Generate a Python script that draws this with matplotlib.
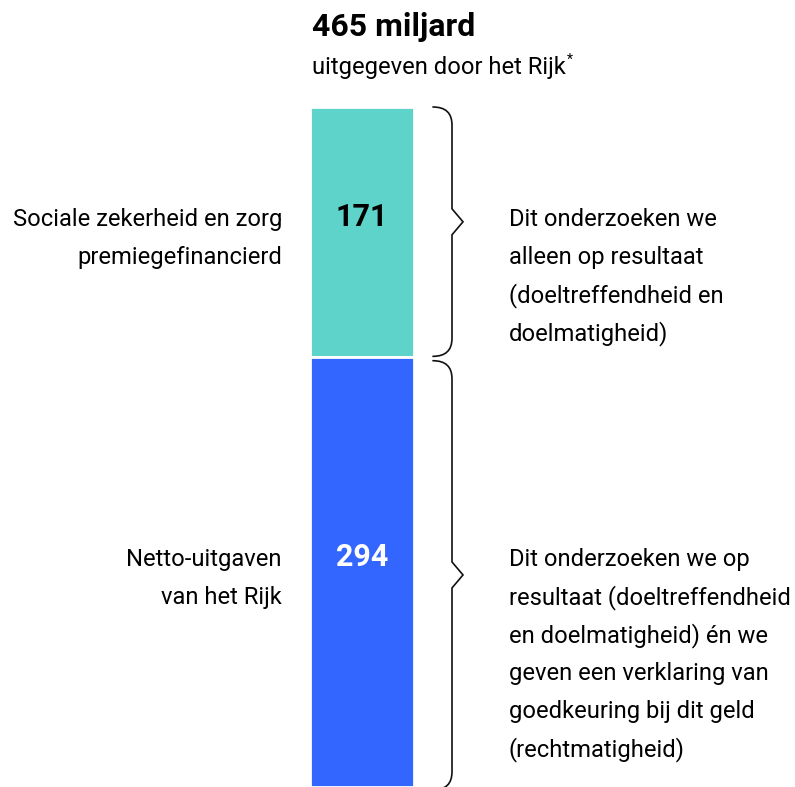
import matplotlib
matplotlib.use("Agg")
import matplotlib.pyplot as plt
from matplotlib.path import Path
from matplotlib.patches import PathPatch

plt.rcParams['font.family'] = ['Roboto', 'DejaVu Sans']

# Data
total = 465
segment_values = [171, 294]
segment_colors = ['#5dd3c9', '#3366ff']
value_colors = ['black', 'white']
title_text = '465 miljard'
subtitle_text = 'uitgegeven door het Rijk'
left_labels = [
    ['Sociale zekerheid en zorg', 'premiegefinancierd'],
    ['Netto-uitgaven', 'van het Rijk'],
]
right_labels = [
    ['Dit onderzoeken we', 'alleen op resultaat', '(doeltreffendheid en', 'doelmatigheid)'],
    ['Dit onderzoeken we op', 'resultaat (doeltreffendheid', 'en doelmatigheid) én we',
     'geven een verklaring van', 'goedkeuring bij dit geld', '(rechtmatigheid)'],
]

# Layout (pixels)
W, H = 795, 787
BAR_TOP = 107
BAR_X, BAR_W = 362, 104
LEFT_X, RIGHT_X = 282, 509
LINE_STEP = 38
BODY = 17.1
unit = total / (H - BAR_TOP)   # miljard per pixel


def py(p):
    return (p - BAR_TOP) * unit


fig = plt.figure(figsize=(7.95, 7.87), dpi=100)
ax = fig.add_axes([0, 0, 1, 1])
ax.set_xlim(0, W)
ax.set_ylim(py(H), py(0))
ax.axis('off')

bottoms = [sum(segment_values[:i]) for i in range(len(segment_values))]
ax.bar([BAR_X] * len(segment_values), segment_values, bottom=bottoms, width=BAR_W,
       color=segment_colors, edgecolor='white', linewidth=2)

# header
ax.text(312, py(36), title_text, fontsize=23, fontweight='bold', color='black')
sub = ax.text(312, py(74), subtitle_text, fontsize=BODY, color='black')
fig.canvas.draw()
bb = sub.get_window_extent()
x_end = ax.transData.inverted().transform((bb.x1, bb.y0))[0]
ax.text(x_end + 1, py(64), '*', fontsize=10, color='black')

tip_shift = [-7, 2]
for i, (v, b) in enumerate(zip(segment_values, bottoms)):
    mid = b + v / 2
    base = mid - 4  # first text row sits a little above the middle
    ax.text(BAR_X, base, str(v), fontsize=22, fontweight='bold',
            color=value_colors[i], ha='center', va='baseline')
    for j, line in enumerate(left_labels[i]):
        ax.text(LEFT_X, base + j * LINE_STEP * unit, line, fontsize=BODY,
                ha='right', va='baseline', color='black')
    for j, line in enumerate(right_labels[i]):
        ax.text(RIGHT_X, base + j * LINE_STEP * unit, line, fontsize=BODY,
                ha='left', va='baseline', color='black')

    # curly brace
    y0 = b + (0 if i == 0 else 2.5)
    y1 = b + v + (-0.5 if i == 0 else 2)
    tip = mid + tip_shift[i]
    r = 18 * unit
    th = 13 * unit
    xl, xv, xt = 433, 452, 463
    verts = [(xl, y0), (xv, y0), (xv, y0 + r),
             (xv, tip - th), (xt, tip), (xv, tip + th),
             (xv, y1 - r), (xv, y1), (xl, y1)]
    codes = [Path.MOVETO, Path.CURVE3, Path.CURVE3,
             Path.LINETO, Path.LINETO, Path.LINETO,
             Path.LINETO, Path.CURVE3, Path.CURVE3]
    ax.add_patch(PathPatch(Path(verts, codes), fill=False, lw=1.2,
                           edgecolor='#111111', capstyle='round', joinstyle='miter'))

fig.savefig('out.png', dpi=100)
